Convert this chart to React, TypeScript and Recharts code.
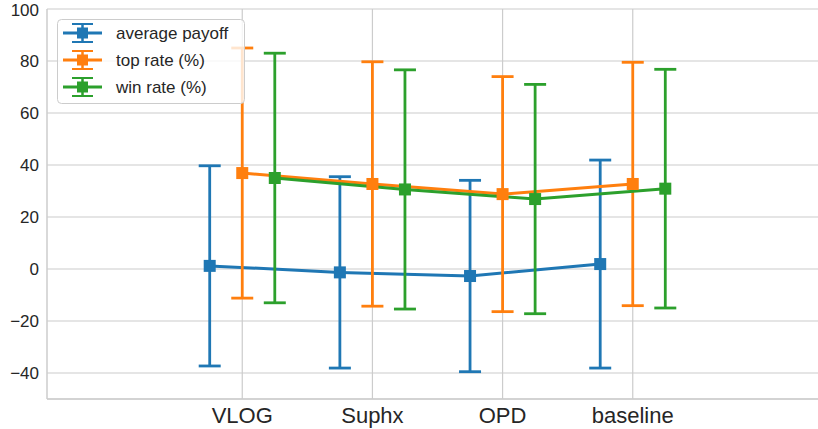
import { ComposedChart, Line, XAxis, YAxis, CartesianGrid, ErrorBar, ReferenceLine } from "recharts";

// Categories on the x axis
const categories = ["VLOG", "Suphx", "OPD", "baseline"];

// Mean values per series
const payoffMean = [1.2, -1.3, -2.7, 1.9];
const topRateMean = [36.9, 32.7, 28.8, 32.7];
const winRateMean = [35.0, 30.6, 26.9, 30.9];

// Error (half length of the error bar)
const payoffErr = [38.5, 36.8, 36.8, 40.0];
const topRateErr = [48.1, 47.0, 45.2, 46.8];
const winRateErr = [48.0, 46.0, 44.1, 45.9];

const xTicks = [0, 1, 2, 3];
const yTicks = [-40, -20, 0, 20, 40, 60, 80, 100];
const X_DOMAIN = [-1.5, 4.5];

const FONT = "'Liberation Sans', Arial, sans-serif";
const TEXT = "#262626";
const GRID = "#cccccc";

const series = [
  { name: "average payoff", color: "#1f77b4", offset: -0.25, mean: payoffMean, err: payoffErr },
  { name: "top rate (%)", color: "#ff7f0e", offset: 0, mean: topRateMean, err: topRateErr },
  { name: "win rate (%)", color: "#2ca02c", offset: 0.25, mean: winRateMean, err: winRateErr },
];

const toRows = (s) =>
  categories.map((c, i) => ({ x: i + s.offset, y: s.mean[i], err: s.err[i] }));

const squareDot = (color) => (p) =>
  (
    <rect
      key={`dot-${p.index}`}
      x={p.cx - 6}
      y={p.cy - 6}
      width={12}
      height={12}
      fill={color}
    />
  );

// legend drawn as an svg overlay so text positions are exact
const Legend = () => (
  <svg
    width={200}
    height={100}
    style={{ position: "absolute", left: 50, top: 12 }}
  >
    <rect
      x={7.5}
      y={7.5}
      width={187}
      height={84}
      rx={4}
      fill="rgba(255,255,255,0.8)"
      stroke={GRID}
      strokeWidth={1}
    />
    {series.map((s, i) => {
      const cy = 21 + i * 27;
      return (
        <g key={s.name}>
          <line x1={13} y1={cy} x2={52} y2={cy} stroke={s.color} strokeWidth={3} />
          <line x1={32.5} y1={cy - 9} x2={32.5} y2={cy + 9} stroke={s.color} strokeWidth={2.5} />
          <line x1={22} y1={cy - 9} x2={43} y2={cy - 9} stroke={s.color} strokeWidth={2} />
          <line x1={22} y1={cy + 9} x2={43} y2={cy + 9} stroke={s.color} strokeWidth={2} />
          <rect x={27} y={cy - 5.5} width={11} height={11} fill={s.color} />
          <text
            x={66}
            y={cy}
            dy="0.36em"
            fill={TEXT}
            fontSize={17}
            fontFamily={FONT}
          >
            {s.name}
          </text>
        </g>
      );
    })}
  </svg>
);

const App = () => (
  <div style={{ position: "absolute", left: 0, top: 0, width: 818, height: 429, overflow: "hidden" }}>
    <ComposedChart width={828} height={429} margin={{ top: 9, right: 0, bottom: 0, left: 0 }}>
      <CartesianGrid stroke={GRID} strokeWidth={1.2} vertical={false} />
      {xTicks.map((t) => (
        <ReferenceLine key={t} x={t} stroke={GRID} strokeWidth={1.2} />
      ))}
      <XAxis
        type="number"
        dataKey="x"
        domain={X_DOMAIN}
        allowDataOverflow
        ticks={xTicks}
        tickFormatter={(v) => categories[v]}
        height={30}
        tickLine={false}
        axisLine={{ stroke: GRID, strokeWidth: 1.5 }}
        tick={{ fill: TEXT, fontSize: 22, fontFamily: FONT }}
      />
      <YAxis
        type="number"
        domain={[-50, 100]}
        ticks={yTicks}
        width={47}
        tickLine={false}
        axisLine={{ stroke: GRID, strokeWidth: 1.5 }}
        tickFormatter={(v) => String(v).replace("-", "\u2212")}
        tick={{ fill: TEXT, fontSize: 17, fontFamily: FONT }}
      />
      {series.map((s) => (
        <Line
          key={s.name}
          data={toRows(s)}
          dataKey="y"
          name={s.name}
          stroke={s.color}
          strokeWidth={3}
          dot={squareDot(s.color)}
          activeDot={false}
          isAnimationActive={false}
        >
          <ErrorBar dataKey="err" direction="y" width={11} stroke={s.color} strokeWidth={2.8} />
        </Line>
      ))}
    </ComposedChart>
    <Legend />
  </div>
);

export default App;
